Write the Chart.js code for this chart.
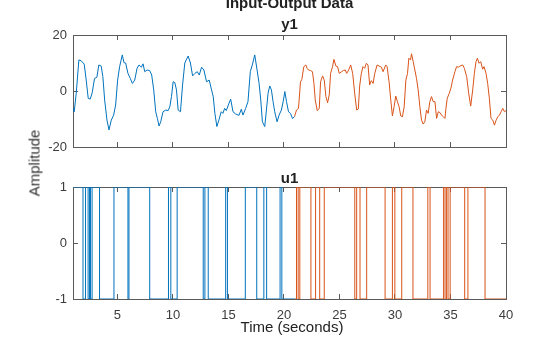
<!DOCTYPE html>
<html><head><meta charset="utf-8">
<script src="https://cdn.jsdelivr.net/npm/chart.js@4/dist/chart.umd.min.js"></script>
<style>
html,body{margin:0;padding:0;background:#fff;}
#wrap{position:relative;width:560px;height:337px;overflow:hidden;font-family:"Liberation Sans",Arial,Helvetica,sans-serif;}
canvas{position:absolute;left:0;}
.t{position:absolute;white-space:nowrap;line-height:15px;font-size:15px;color:#222;}
.b{font-weight:bold;}
</style></head><body>
<div id="wrap">
<canvas id="c1" width="560" height="166" style="top:0;width:560px;height:166px"></canvas>
<canvas id="c2" width="560" height="177" style="top:161px;width:560px;height:177px"></canvas>
<div class="t b" style="left:289.5px;top:-5px;transform:translateX(-50%)">Input-Output Data</div>
<div class="t b" style="left:289.5px;top:16px;transform:translateX(-50%)">y1</div>
<div class="t b" style="left:289.5px;top:170px;transform:translateX(-50%)">u1</div>
<div class="t" style="left:292px;top:319px;transform:translateX(-50%)">Time (seconds)</div>
<div class="t" style="left:34px;top:162.5px;transform:translate(-50%,-50%) rotate(-90deg);color:#333">Amplitude</div>
</div>
<script>
// ---- data ----
const xTicks = [5, 10, 15, 20, 25, 30, 35, 40];
const yTicksOut = [-20, 0, 20];
const yTicksIn = [-1, 0, 1];

// output y1, experiment 1 (blue)
const tOut1 = [1.0,1.11,1.29,1.53,1.74,2.01,2.19,2.37,2.55,2.73,2.94,3.15,3.33,3.54,3.69,3.85,4.06,4.24,4.45,4.66,4.84,5.02,5.20,5.44,5.59,5.74,5.95,6.16,6.35,6.56,6.77,6.95,7.16,7.31,7.46,7.67,7.91,8.09,8.27,8.45,8.60,8.75,8.90,9.11,9.36,9.57,9.72,9.87,10.02,10.17,10.32,10.47,10.68,10.86,11.07,11.37,11.58,11.77,11.98,12.19,12.37,12.58,12.79,13.03,13.27,13.48,13.63,13.78,13.96,14.14,14.35,14.50,14.66,14.81,14.99,15.20,15.41,15.65,15.95,16.16,16.31,16.55,16.76,16.97,17.15,17.37,17.58,17.76,17.91,18.06,18.27,18.42,18.57,18.72,18.87,19.02,19.17,19.38,19.56,19.77,19.93,20.08,20.23,20.41,20.59,20.77,20.95];
const yOut1 = [-6.2,-7.4,-0.8,11.1,10.8,9.6,3.9,-2.6,-2.9,-0.6,4.5,4.9,9.3,8.9,5.1,-3.2,-10.4,-13.9,-10.4,-8.6,-5.0,3.9,8.7,12.9,10.1,10.0,6.3,4.5,2.7,3.9,8.1,9.3,8.5,9.7,6.9,7.5,7.3,5.7,0.4,-7.4,-9.8,-12.5,-11.0,-7.4,-6.8,-7.0,-5.6,-2.0,3.3,3.0,0.4,-6.8,-7.4,1.8,10.0,12.5,10.0,5.4,6.3,6.9,5.7,8.5,7.5,3.3,3.9,0.4,-2.0,-8.0,-12.7,-10.4,-7.4,-8.0,-6.2,-7.0,-5.0,-2.9,-7.4,-8.2,-8.7,-6.5,-8.6,-6.2,-3.8,6.9,9.3,12.9,7.5,2.7,-3.2,-11.0,-12.7,-6.8,-0.8,1.8,0.4,-3.8,-7.4,-11.0,-8.6,-6.8,-3.8,-0.2,-3.8,-7.4,-8.0,-9.8,-9.2];

// output y1, experiment 2 (orange)
const tOut2 = [20.95,21.13,21.31,21.49,21.61,21.79,21.97,22.09,22.21,22.39,22.57,22.70,22.82,23.00,23.18,23.30,23.48,23.63,23.78,23.93,24.08,24.20,24.38,24.50,24.68,24.83,24.98,25.19,25.35,25.53,25.65,25.83,26.01,26.19,26.37,26.55,26.70,26.82,26.97,27.12,27.27,27.42,27.57,27.72,27.87,28.03,28.18,28.39,28.57,28.78,28.93,29.17,29.29,29.47,29.62,29.77,29.92,30.07,30.22,30.37,30.52,30.67,30.83,30.98,31.13,31.25,31.40,31.49,31.64,31.79,31.94,32.09,32.24,32.39,32.54,32.69,32.84,32.99,33.14,33.29,33.44,33.60,33.75,33.90,34.05,34.20,34.35,34.50,34.59,34.71,34.89,35.04,35.19,35.40,35.55,35.70,35.85,36.10,36.25,36.46,36.64,36.82,37.00,37.15,37.30,37.42,37.57,37.72,37.90,38.02,38.20,38.35,38.50,38.65,38.81,38.96,39.11,39.26,39.41,39.56,39.71,39.86,40.0];
const yOut2 = [-9.2,-6.8,-6.2,3.3,4.1,8.7,9.3,8.1,7.5,7.3,6.9,2.7,-3.2,-7.0,-6.2,3.3,5.4,3.9,-2.0,-4.2,-1.4,6.3,8.7,11.3,8.9,8.7,6.3,6.9,7.3,7.5,6.3,7.5,9.3,6.3,-0.8,-6.8,-6.4,1.8,6.3,8.7,8.1,9.9,9.3,2.2,3.7,2.7,6.3,9.3,8.9,8.5,6.9,9.3,8.7,3.3,-3.2,-8.9,-5.6,-1.8,-3.8,-5.6,-8.9,-9.2,-5.6,3.9,6.3,11.7,11.1,13.3,10.5,7.5,4.5,0.4,-5.6,-10.4,-11.8,-11.0,-6.8,-8.0,-3.8,-2.0,-3.8,-3.8,-9.8,-7.4,-7.7,-8.6,-9.2,-9.8,-6.2,-2.6,-0.8,1.0,3.9,6.9,8.7,8.5,8.9,9.3,8.1,5.1,-0.8,-5.4,0.4,6.3,10.5,11.7,9.9,10.5,7.8,8.7,6.3,2.7,-2.6,-9.8,-10.4,-12.2,-10.4,-9.2,-8.6,-7.4,-6.2,-7.4,-7.0];

// input u1: switching times and the level held from each time on
const tIn1 = [1,1.90,2.13,2.36,2.49,2.58,2.72,3.39,4.69,5.95,6.04,7.91,9.60,9.81,10.38,12.73,12.88,13.18,14.75,14.91,16.52,17.55,18.19,18.44,19.65,19.81,21.0];
const uIn1 = [1,-1,1,-1,1,-1,1,-1,1,-1,1,-1,1,-1,1,-1,1,-1,1,-1,1,-1,1,-1,1,-1,-1];
const tIn2 = [21.0,21.13,21.28,21.43,22.43,22.85,23.22,23.63,26.38,26.55,26.85,27.45,29.11,29.77,29.99,30.61,31.62,32.96,33.16,34.38,34.51,34.65,34.78,34.97,36.28,36.57,38.11,40.0];
const uIn2 = [-1,1,-1,1,-1,1,-1,1,-1,1,-1,1,-1,1,-1,1,-1,1,-1,1,-1,1,-1,1,-1,1,-1,-1];

// ---- styles ----
const BLUE = '#0072BD', ORANGE = '#D95319';
const AXIS = '#5a5a5a', TICKTXT = '#3c3c3c';
const FAM = '"Liberation Sans", Arial, Helvetica, sans-serif';

const pts = (t, v) => t.map((x, i) => ({x: x, y: v[i]}));

function gridOpts(){ return {drawOnChartArea:false, drawTicks:true, tickLength:-5, color:AXIS, lineWidth:1}; }
function border(){ return {display:true, color:AXIS, width:1}; }

function makeChart(id, dsets, yMin, yMax, yTicks, showX, padTop, xH){
  return new Chart(document.getElementById(id), {
    type:'line',
    data:{datasets:dsets},
    options:{
      responsive:false, animation:false, devicePixelRatio:1,
      layout:{autoPadding:false, padding:{top:padTop, left:0, right:54, bottom:0}},
      plugins:{legend:{display:false}, tooltip:{enabled:false}, title:{display:false}},
      elements:{point:{radius:0}, line:{borderWidth:1, tension:0}},
      scales:{
        x:{type:'linear', position:'bottom', min:1, max:40,
           afterBuildTicks:s=>{s.ticks = xTicks.map(v=>({value:v}));},
           ticks:{display:true, color:showX ? TICKTXT : 'rgba(0,0,0,0)', font:{size:13, family:FAM}, padding:14, maxRotation:0, autoSkip:false},
           grid:gridOpts(), border:border(), afterFit:s=>{s.height = xH;}},
        x2:{type:'linear', position:'top', min:1, max:40,
           afterBuildTicks:s=>{s.ticks = xTicks.map(v=>({value:v}));},
           ticks:{display:false}, grid:gridOpts(), border:border(), afterFit:s=>{s.height = 0;}},
        y:{type:'linear', position:'left', min:yMin, max:yMax,
           afterBuildTicks:s=>{s.ticks = yTicks.map(v=>({value:v}));},
           ticks:{color:TICKTXT, font:{size:13, family:FAM}, padding:11},
           grid:gridOpts(), border:border(), afterFit:s=>{s.width = 73;}},
        y2:{type:'linear', position:'right', min:yMin, max:yMax,
           afterBuildTicks:s=>{s.ticks = yTicks.map(v=>({value:v}));},
           ticks:{display:false}, grid:gridOpts(), border:border(), afterFit:s=>{s.width = 0;}}
      }
    }
  });
}

makeChart('c1', [
  {data:pts(tOut1, yOut1), borderColor:BLUE, fill:false},
  {data:pts(tOut2, yOut2), borderColor:ORANGE, fill:false}
], -20, 20, yTicksOut, false, 35, 19);

makeChart('c2', [
  {data:pts(tIn1, uIn1), borderColor:BLUE, fill:false, stepped:'before'},
  {data:pts(tIn2, uIn2), borderColor:ORANGE, fill:false, stepped:'before'}
], -1, 1, yTicksIn, true, 26, 39);
</script>
</body></html>
